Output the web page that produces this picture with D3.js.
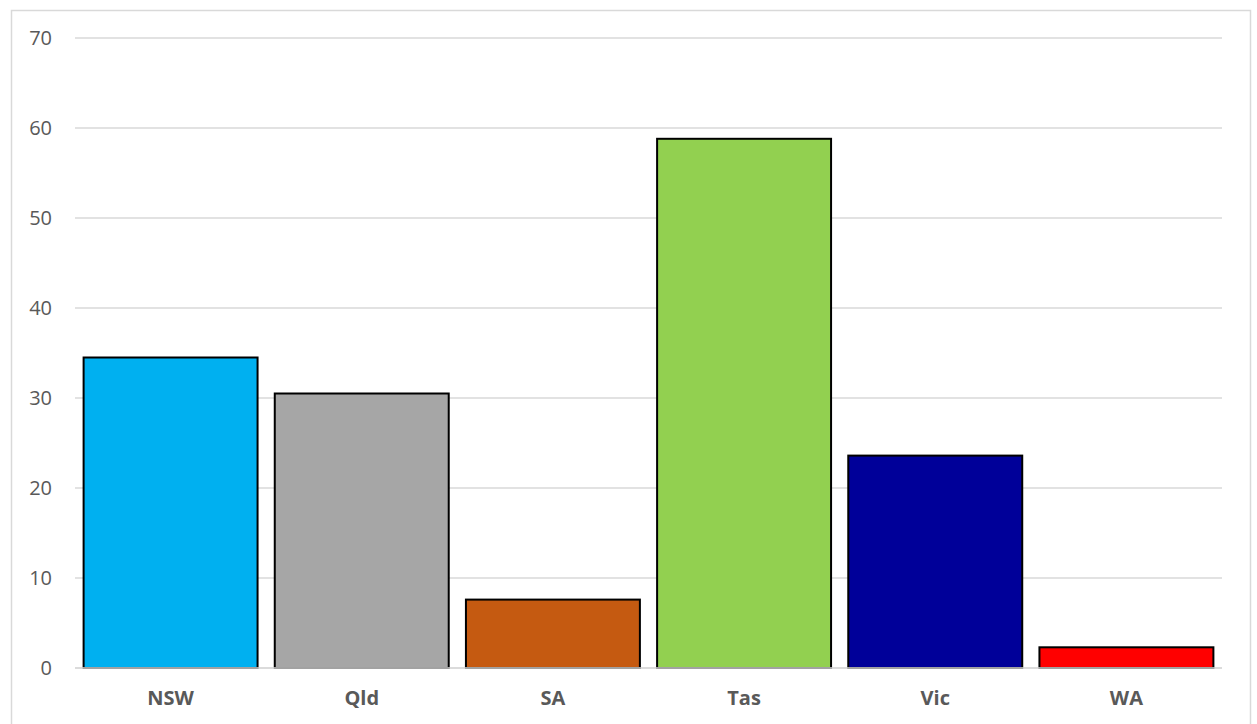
<!DOCTYPE html>
<html>
<head>
<meta charset="utf-8">
<script src="https://cdn.jsdelivr.net/npm/d3@7"></script>
<style>
  body { margin: 0; background: #fff; }
  text { font-family: "Open Sans", "Noto Sans", sans-serif; }
</style>
</head>
<body>
<svg id="chart"></svg>
<script>
var width = 1257;
var height = 724;

// data
var states = ["NSW", "Qld", "SA", "Tas", "Vic", "WA"];
var values = [34.5, 30.5, 7.6, 58.8, 23.6, 2.3];
var colors = ["#00b0f0", "#a6a6a6", "#c55a11", "#92d050", "#000099", "#ff0000"];
var yTicks = [0, 10, 20, 30, 40, 50, 60, 70];

var svg = d3.select("#chart")
  .attr("width", width)
  .attr("height", height);

// chart frame
svg.append("rect")
  .attr("x", 11.5).attr("y", 10.5)
  .attr("width", 1239).attr("height", 730)
  .attr("fill", "none")
  .attr("stroke", "#d9d9d9")
  .attr("stroke-width", 1.5);

var x = d3.scaleBand()
  .domain(states)
  .range([75, 1222])
  .paddingInner(0.09)
  .paddingOuter(0.045);

var y = d3.scaleLinear()
  .domain([0, 70])
  .range([668, 38]);

// gridlines
svg.append("g")
  .selectAll("line")
  .data(yTicks)
  .enter()
  .append("line")
  .attr("x1", 75).attr("x2", 1222)
  .attr("y1", function (d) { return y(d); })
  .attr("y2", function (d) { return y(d); })
  .attr("stroke", "#d9d9d9")
  .attr("stroke-width", 1.5);

// y labels
var yAxis = d3.axisLeft(y).tickValues(yTicks).tickSize(0).tickPadding(0);
var gy = svg.append("g").attr("transform", "translate(52,0)").call(yAxis);
gy.select(".domain").remove();
gy.selectAll("text")
  .attr("fill", "#595959")
  .style("font-size", "20px")
  .style("font-family", "'Open Sans', sans-serif");

// bars
svg.append("g")
  .selectAll("rect")
  .data(states)
  .enter()
  .append("rect")
  .attr("x", function (d) { return x(d); })
  .attr("y", function (d, i) { return y(values[i]); })
  .attr("width", x.bandwidth())
  .attr("height", function (d, i) { return y(0) - y(values[i]); })
  .attr("fill", function (d, i) { return colors[i]; })
  .attr("stroke", "#000")
  .attr("stroke-width", 2);

// baseline
svg.append("line")
  .attr("x1", 75).attr("x2", 1222)
  .attr("y1", y(0)).attr("y2", y(0))
  .attr("stroke", "#d9d9d9")
  .attr("stroke-width", 1.5);

// x labels
var xAxis = d3.axisBottom(x).tickSize(0).tickPadding(0);
var gx = svg.append("g").attr("transform", "translate(0,698)").call(xAxis);
gx.select(".domain").remove();
gx.selectAll("text")
  .attr("fill", "#595959")
  .attr("dy", "0.35em")
  .style("font-size", "20px")
  .style("font-weight", "bold")
  .style("font-family", "'Open Sans', sans-serif");
</script>
</body>
</html>
